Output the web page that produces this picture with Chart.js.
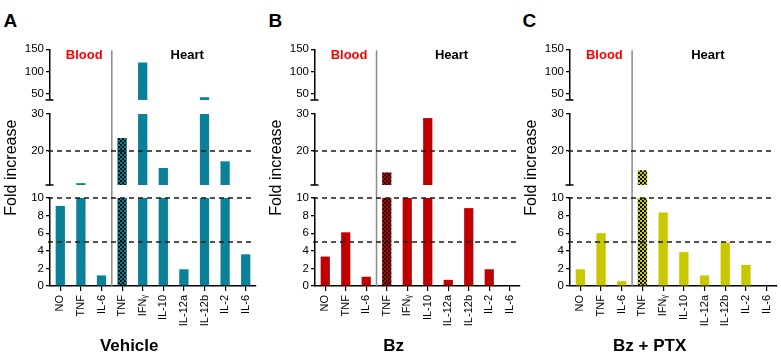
<!DOCTYPE html>
<html>
<head>
<meta charset="utf-8">
<script src="https://cdn.jsdelivr.net/npm/chart.js@4/dist/chart.umd.min.js"></script>
<style>
  html, body { margin: 0; padding: 0; background: #fff; }
  body { width: 781px; height: 355px; overflow: hidden; position: relative; font-family: "Liberation Sans", Arial, sans-serif; }
  canvas { position: absolute; top: 0; }
  .letter { position: absolute; top: 11px; font-weight: bold; font-size: 19px; line-height: 19px; color: #000; }
</style>
</head>
<body>
<div class="letter" style="left:3.5px">A</div>
<div class="letter" style="left:268.5px">B</div>
<div class="letter" style="left:522.5px">C</div>
<canvas id="cA" width="284" height="355" style="left:-20px"></canvas>
<canvas id="cB" width="274" height="355" style="left:254px"></canvas>
<canvas id="cC" width="275" height="355" style="left:510px"></canvas>
<script>
// ---- data ----
const categories = ['NO', 'TNF', 'IL-6', 'TNF', 'IFNᵧ', 'IL-10', 'IL-12a', 'IL-12b', 'IL-2', 'IL-6'];
const vehicleValues = [9.1, 11.3, 1.2, 23.5, 120, 15.4, 1.9, 41, 17.2, 3.6];
const bzValues = [3.35, 6.1, 1.05, 14.2, 10, 28.9, 0.7, 8.85, 1.9, 0];
const bzPtxValues = [1.9, 6.0, 0.55, 14.8, 8.35, 3.85, 1.2, 4.95, 2.4, 0];
const panelTitles = ['Vehicle', 'Bz', 'Bz + PTX'];
const groupLabels = ['Blood', 'Heart'];
const bottomTicks = [0, 2, 4, 6, 8, 10];
const middleTicks = [20, 30];
const topTicks = [50, 100, 150];
const bottomRange = [0, 10];
const middleRange = [10.8, 30];
const topRange = [35, 150];
const referenceLines = [5, 10, 20];
const bloodCount = 3;      // first 3 categories are blood
const patternIndex = 3;    // heart TNF drawn checkered

Chart.defaults.font.family = '"Liberation Sans", Arial, sans-serif';
Chart.defaults.color = '#000';

function checker(color) {
  const c = document.createElement('canvas');
  c.width = 4; c.height = 4;
  const g = c.getContext('2d');
  g.fillStyle = color; g.fillRect(0, 0, 4, 4);
  g.fillStyle = '#111';
  g.fillRect(0, 0, 2, 2); g.fillRect(2, 2, 2, 2);
  return g.createPattern(c, 'repeat');
}

function segment(values, range, first) {
  return values.map(v => {
    if (first) return [range[0], Math.min(v, range[1])];
    if (v <= range[0]) return null;
    return [range[0], Math.min(v, range[1])];
  });
}

const decorPlugin = {
  id: 'decor',
  afterDatasetsDraw(chart) {
    const {ctx, chartArea, scales} = chart;
    const x = scales.x, y0 = scales.y0, y1 = scales.y1, y2 = scales.y2;
    ctx.save();
    // separator between blood and heart
    const sepX = (x.getPixelForValue(bloodCount - 1) + x.getPixelForValue(bloodCount)) / 2;
    ctx.strokeStyle = '#8a8a8a';
    ctx.lineWidth = 1.5;
    ctx.beginPath();
    ctx.moveTo(sepX, chartArea.top + 1);
    ctx.lineTo(sepX, chartArea.bottom);
    ctx.stroke();
    // reference dashed lines
    ctx.strokeStyle = '#1a1a1a';
    ctx.lineWidth = 1.3;
    ctx.setLineDash([5, 4]);
    referenceLines.forEach(v => {
      const sc = v <= bottomRange[1] ? y0 : y1;
      const py = sc.getPixelForValue(v);
      ctx.beginPath();
      ctx.moveTo(chartArea.left - 2, py);
      ctx.lineTo(chartArea.right - 3, py);
      ctx.stroke();
    });
    ctx.setLineDash([]);
    // axis break caps
    ctx.strokeStyle = '#000';
    ctx.lineWidth = 1.5;
    [y1.bottom, y2.bottom].forEach(py => {
      ctx.beginPath();
      ctx.moveTo(chartArea.left - 4.5, py);
      ctx.lineTo(chartArea.left + 3.5, py);
      ctx.stroke();
    });
    // group labels
    ctx.font = 'bold 13px "Liberation Sans", Arial, sans-serif';
    ctx.textAlign = 'center';
    ctx.textBaseline = 'alphabetic';
    ctx.fillStyle = '#ff0000';
    ctx.fillText(groupLabels[0], x.getPixelForValue(1) + 3.3, chartArea.top + 9.4);
    ctx.fillStyle = '#000';
    ctx.fillText(groupLabels[1], x.getPixelForValue(6) + 3.3, chartArea.top + 9.4);
    ctx.restore();
  }
};

function yStacked(range, ticks, weight) {
  return {
    type: 'linear', position: 'left', stack: 'fold', stackWeight: weight,
    min: range[0], max: range[1],
    afterBuildTicks: s => { s.ticks = ticks.map(v => ({value: v})); },
    afterFit: s => { s.width = 32; },
    grid: { drawOnChartArea: false, drawTicks: true, tickLength: 4, color: '#000', lineWidth: 1.3 },
    border: { display: true, color: '#000', width: 1.5 },
    ticks: { autoSkip: false, font: { size: 11.5 }, color: '#000', padding: 2 }
  };
}
function ySpacer(weight) {
  return { type: 'linear', position: 'left', stack: 'fold', stackWeight: weight, display: false, min: 0, max: 1 };
}

function makeChart(id, values, color, title, padLeft) {
  const colors = values.map((v, i) => i === patternIndex ? checker(color) : color);
  const common = { backgroundColor: colors, borderWidth: 0, grouped: false, barPercentage: 0.45, categoryPercentage: 1 };
  new Chart(document.getElementById(id), {
    type: 'bar',
    data: {
      labels: categories,
      datasets: [
        Object.assign({ data: segment(values, bottomRange, true), yAxisID: 'y0' }, common),
        Object.assign({ data: segment(values, middleRange, false), yAxisID: 'y1' }, common),
        Object.assign({ data: segment(values, topRange, false), yAxisID: 'y2' }, common)
      ]
    },
    options: {
      responsive: false,
      animation: false,
      events: [],
      layout: { padding: { left: padLeft, right: 8, top: 49.3, bottom: 0 } },
      plugins: {
        legend: { display: false },
        tooltip: { enabled: false },
        title: { display: true, position: 'bottom', text: title, color: '#000', padding: 0,
                 font: { size: 17, weight: 'bold', lineHeight: 1 } }
      },
      scales: {
        x: {
          type: 'category', offset: true,
          afterFit: s => { s.height = 52; },
          grid: { display: true, drawOnChartArea: false, drawTicks: true, tickLength: 5, color: '#000', lineWidth: 1.2, offset: false },
          border: { display: true, color: '#000', width: 1.5 },
          ticks: { autoSkip: false, minRotation: 90, maxRotation: 90, font: { size: 11 }, color: '#000', padding: 4 }
        },
        yt: {
          type: 'linear', position: 'left', weight: 1, min: 0, max: 1,
          afterFit: s => { s.width = 15.6; },
          grid: { display: false }, border: { display: false }, ticks: { display: false },
          title: { display: true, text: 'Fold increase', color: '#000', padding: 0, font: { size: 16 } }
        },
        y0: yStacked(bottomRange, bottomTicks, 88),
        g1: ySpacer(13),
        y1: yStacked(middleRange, middleTicks, 71),
        g2: ySpacer(14),
        y2: yStacked(topRange, topTicks, 50.7)
      }
    },
    plugins: [decorPlugin]
  });
}

makeChart('cA', vehicleValues, '#0a8199', panelTitles[0], 22.4);
makeChart('cB', bzValues, '#c00000', panelTitles[1], 13.4);
makeChart('cC', bzPtxValues, '#c8c800', panelTitles[2], 12.4);
</script>
</body>
</html>
